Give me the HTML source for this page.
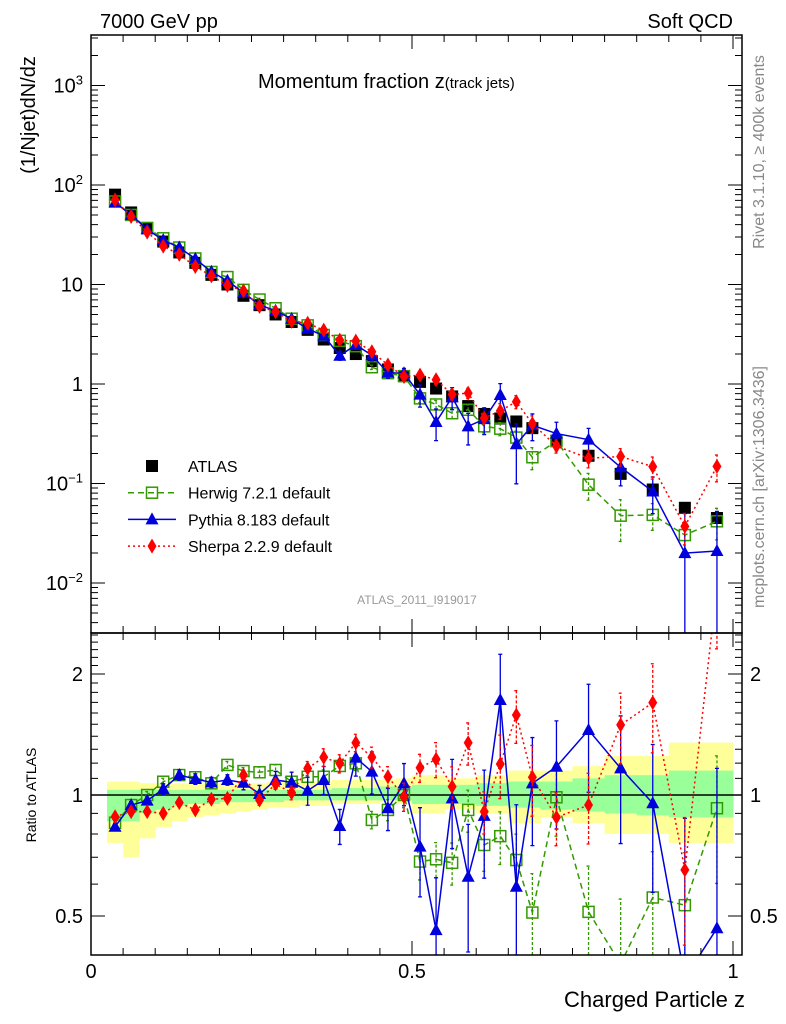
<!DOCTYPE html>
<html><head><meta charset="utf-8">
<style>
html,body{margin:0;padding:0;background:#fff;width:786px;height:1024px;overflow:hidden;}
svg{display:block;font-family:"Liberation Sans",Arial,sans-serif;}
</style></head>
<body>
<svg id="c" width="786" height="1024" viewBox="0 0 786 1024">
<text x="100" y="28" font-size="20">7000 GeV pp</text>
<text x="733" y="28" font-size="20" text-anchor="end">Soft QCD</text>
<text x="258" y="88" font-size="20">Momentum fraction z<tspan font-size="15">(track jets)</tspan></text>
<text transform="translate(35,115) rotate(-90)" font-size="20" text-anchor="middle">(1/Njet)dN/dz</text>
<text transform="translate(36,795) rotate(-90)" font-size="14" text-anchor="middle">Ratio to ATLAS</text>
<text x="745" y="1007" font-size="22" text-anchor="end">Charged Particle z</text>
<text transform="translate(764,152) rotate(-90)" font-size="16" fill="#888" text-anchor="middle">Rivet 3.1.10, ≥ 400k events</text>
<text transform="translate(764,487) rotate(-90)" font-size="16" fill="#888" text-anchor="middle">mcplots.cern.ch [arXiv:1306.3436]</text>
<text x="417" y="604" font-size="12" fill="#999" text-anchor="middle">ATLAS_2011_I919017</text>
<g id="g"></g>
</svg>
<script>
const zVals=[0.0375,0.0625,0.0875,0.1125,0.1375,0.1625,0.1875,0.2125,0.2375,0.2625,0.2875,0.3125,0.3375,0.3625,0.3875,0.4125,0.4375,0.4625,0.4875,0.5125,0.5375,0.5625,0.5875,0.6125,0.6375,0.6625,0.6875,0.725,0.775,0.825,0.875,0.925,0.975];
const binHalf=[0.0125,0.0125,0.0125,0.0125,0.0125,0.0125,0.0125,0.0125,0.0125,0.0125,0.0125,0.0125,0.0125,0.0125,0.0125,0.0125,0.0125,0.0125,0.0125,0.0125,0.0125,0.0125,0.0125,0.0125,0.0125,0.0125,0.0125,0.025,0.025,0.025,0.025,0.025,0.025];
const atlas=[80,53,37,27,21,16.5,12.5,10,7.7,6.2,5.0,4.2,3.5,2.8,2.3,2.0,1.7,1.4,1.2,1.05,0.9,0.75,0.6,0.5,0.45,0.42,0.36,0.27,0.19,0.125,0.087,0.057,0.045];
const herwigRatio=[0.853,0.944,1.0,1.079,1.121,1.107,1.069,1.188,1.147,1.139,1.154,1.079,1.11,1.11,1.181,1.199,0.867,0.918,1.0,0.683,0.692,0.678,0.918,0.751,0.79,0.689,0.51,0.987,0.512,0.38,0.556,0.532,0.927];
const pythiaRatio=[0.834,0.944,0.968,1.035,1.121,1.096,1.075,1.09,1.073,1.006,1.09,1.075,1.025,1.09,0.837,1.238,1.143,0.927,1.069,0.744,0.461,0.981,0.626,0.887,1.723,0.591,1.069,1.176,1.451,1.165,0.954,0.35,0.466];
const sherpaRatio=[0.883,0.909,0.909,0.9,0.957,0.918,0.976,0.981,1.121,0.972,1.065,1.013,1.165,1.241,1.199,1.349,1.241,1.11,0.99,1.169,1.227,1.049,1.349,0.909,1.194,1.581,1.107,0.88,0.944,1.494,1.697,0.651,3.3];
const herwigErr=[0.02,0.02,0.02,0.02,0.02,0.02,0.02,0.02,0.02,0.03,0.03,0.03,0.03,0.04,0.04,0.04,0.05,0.06,0.07,0.1,0.1,0.12,0.12,0.14,0.15,0.16,0.25,0.2,0.3,0.45,0.3,0.35,0.35];
const pythiaErr=[0.02,0.02,0.02,0.03,0.03,0.03,0.03,0.03,0.04,0.05,0.05,0.06,0.08,0.08,0.1,0.1,0.12,0.12,0.12,0.25,0.35,0.25,0.35,0.3,0.3,0.6,0.3,0.3,0.3,0.35,0.4,1.5,1.5];
const sherpaErr=[0.02,0.02,0.02,0.02,0.02,0.02,0.02,0.02,0.03,0.03,0.03,0.04,0.04,0.05,0.05,0.05,0.06,0.06,0.08,0.08,0.1,0.12,0.12,0.12,0.18,0.15,0.2,0.15,0.2,0.2,0.25,0.35,0.3];
const yellowHi=[1.08,1.08,1.07,1.07,1.07,1.07,1.07,1.07,1.07,1.07,1.08,1.08,1.08,1.08,1.09,1.09,1.09,1.09,1.1,1.12,1.12,1.1,1.1,1.12,1.12,1.15,1.15,1.15,1.18,1.25,1.25,1.35,1.35];
const yellowLo=[0.76,0.7,0.78,0.83,0.86,0.88,0.89,0.9,0.91,0.92,0.93,0.93,0.94,0.94,0.95,0.95,0.95,0.96,0.95,0.9,0.9,0.92,0.92,0.9,0.9,0.85,0.85,0.88,0.85,0.8,0.8,0.76,0.76];
const greenHi=[1.03,1.03,1.03,1.03,1.03,1.03,1.03,1.03,1.03,1.03,1.03,1.03,1.03,1.03,1.04,1.04,1.04,1.05,1.05,1.06,1.06,1.06,1.06,1.07,1.07,1.08,1.08,1.08,1.1,1.12,1.12,1.15,1.15];
const greenLo=[0.86,0.86,0.9,0.92,0.94,0.95,0.95,0.96,0.96,0.96,0.96,0.97,0.97,0.97,0.97,0.97,0.97,0.97,0.97,0.95,0.95,0.95,0.95,0.94,0.94,0.93,0.93,0.92,0.91,0.9,0.89,0.88,0.88];
const mainTicks=[{v:1000,l:"10<tspan dy='-8' font-size='13'>3</tspan>"},{v:100,l:"10<tspan dy='-8' font-size='13'>2</tspan>"},{v:10,l:"10"},{v:1,l:"1"},{v:0.1,l:"10<tspan dy='-8' font-size='13'>−1</tspan>"},{v:0.01,l:"10<tspan dy='-8' font-size='13'>−2</tspan>"}];
const ratioTicks=[2,1,0.5];
const xTicks=[0,0.5,1];

const L=91,R=742,T=35,MB=633,RB=955;
const X=z=>L+z*642;
const Ym=v=>384-99.5*Math.log10(v);
const Yr=r=>795-121*Math.log2(r);
const g=document.getElementById('g');
const NS="http://www.w3.org/2000/svg";
function el(tag,attrs,parent){const e=document.createElementNS(NS,tag);for(const k in attrs)e.setAttribute(k,attrs[k]);(parent||g).appendChild(e);return e;}
const clipDefs=el('defs',{});
const cp1=el('clipPath',{id:'cm'},clipDefs);el('rect',{x:L,y:T,width:R-L,height:MB-T},cp1);
const cp2=el('clipPath',{id:'cr'},clipDefs);el('rect',{x:L,y:MB,width:R-L,height:RB-MB},cp2);
const gm=el('g',{'clip-path':'url(#cm)'});


const gr=el('g',{'clip-path':'url(#cr)'});



zVals.forEach((z,i)=>{
  const x0=X(z-binHalf[i]),w=X(z+binHalf[i])-x0;
  const y=el('rect',{x:x0,y:Yr(yellowHi[i]),width:w+0.5,height:Yr(yellowLo[i])-Yr(yellowHi[i]),fill:'#ffff99'},gr);
  
  
});
zVals.forEach((z,i)=>{
  const x0=X(z-binHalf[i]),w=X(z+binHalf[i])-x0;
  const gg=el('rect',{x:x0,y:Yr(greenHi[i]),width:w+0.5,height:Yr(greenLo[i])-Yr(greenHi[i]),fill:'#99ff99'},gr);
  
  
});
const one=el('line',{x1:L,x2:R,y1:Yr(1),y2:Yr(1),stroke:'#000','stroke-width':1.5},gr);



function marker(parent,type,x,y,color){
  let m;
  if(type==='sq') m=el('rect',{x:x-6,y:y-6,width:12,height:12,fill:'#000'},parent);
  else if(type==='osq') m=el('rect',{x:x-5.5,y:y-5.5,width:11,height:11,fill:'none',stroke:color,'stroke-width':1.5},parent);
  else if(type==='tri') m=el('path',{d:`M${x},${y-7}L${x+6.5},${y+5}L${x-6.5},${y+5}Z`,fill:color},parent);
  else m=el('path',{d:`M${x},${y-7.5}L${x+4.5},${y}L${x},${y+7.5}L${x-4.5},${y}Z`,fill:color},parent);
  return m;
}
const models=[
 {name:'herwig',ratio:herwigRatio,err:herwigErr,color:'#339900',dash:'6,4',type:'osq'},
 {name:'pythia',ratio:pythiaRatio,err:pythiaErr,color:'#0000dd',dash:'',type:'tri'},
 {name:'sherpa',ratio:sherpaRatio,err:sherpaErr,color:'#ff0000',dash:'2,3',type:'dia'}];

zVals.forEach((z,i)=>{
  const m=marker(gm,'sq',X(z),Ym(atlas[i]),'#000');
  
  
});
const clampY=(y,top,bot)=>Math.max(top,Math.min(bot,y));
function drawModel(md,parent,Yf,valf,top,bot){
  const pts=zVals.map((z,i)=>[X(z),Yf(valf(i))]);
  const ln=el('polyline',{points:pts.map(p=>p.join(',')).join(' '),fill:'none',stroke:md.color,'stroke-width':1.5,'stroke-dasharray':md.dash},parent);
  
  
  zVals.forEach((z,i)=>{
    const v=valf(i),e=md.err[i];
    const lo=Math.max(v*(1-e),v*0.001),hi=v*(1+e);
    const yl=clampY(Yf(lo),top,bot),yh=clampY(Yf(hi),top,bot);
    const eb=el('path',{d:`M${X(z)},${yl}V${yh}M${X(z)-2},${yl}h4M${X(z)-2},${yh}h4`,stroke:md.color,'stroke-width':1.3,'stroke-dasharray':md.dash?'3,2':'',fill:'none'},parent);
    
    
    const m=marker(parent,md.type,X(z),Yf(v),md.color);
    
    
  });
}
models.forEach(md=>{
  drawModel(md,gm,Ym,i=>atlas[i]*md.ratio[i],T,MB);
  drawModel(md,gr,Yr,i=>md.ratio[i],MB,RB);
});

const f1=el('rect',{x:L,y:T,width:R-L,height:MB-T,fill:'none',stroke:'#000','stroke-width':1.5});


const f2=el('rect',{x:L,y:MB,width:R-L,height:RB-MB,fill:'none',stroke:'#000','stroke-width':1.5});



for(let d=-3;d<=3;d++){for(let k=1;k<10;k++){const v=k*Math.pow(10,d);const y=Ym(v);if(y<T||y>MB)continue;const len=k===1?14:7;
  const t=el('path',{d:`M${L},${y}h${len}M${R},${y}h${-len}`,stroke:'#000','stroke-width':1});
  
  }}
mainTicks.forEach(t=>{const tx=el('text',{x:L-8,y:Ym(t.v)+7,'font-size':20,'text-anchor':'end'});tx.innerHTML=t.l;
  
  });
for(let r=0.4;r<=2.6;r+=0.1){const y=Yr(r);if(y<MB||y>RB)continue;const maj=Math.abs(r-0.5)<1e-6||Math.abs(r-1)<1e-6||Math.abs(r-2)<1e-6;const len=maj?14:7;
  const t=el('path',{d:`M${L},${y}h${len}M${R},${y}h${-len}`,stroke:'#000','stroke-width':1});
  
  }
ratioTicks.forEach(r=>{
  const a=el('text',{x:L-8,y:Yr(r)+7,'font-size':20,'text-anchor':'end'});a.textContent=String(r);
  
  
  const b=el('text',{x:R+8,y:Yr(r)+7,'font-size':20});b.textContent=String(r);
  
  });
for(let i=0;i<=20;i++){const z=i*0.05;const x=X(z);const maj=i%10===0;const len=maj?14:7;
  const t=el('path',{d:`M${x},${MB}v${-len}M${x},${T}v${len}M${x},${RB}v${-len}M${x},${MB}v${len}`,stroke:'#000','stroke-width':1});
  
  }
xTicks.forEach(z=>{const t=el('text',{x:X(z),y:978,'font-size':20,'text-anchor':'middle'});t.textContent=String(z);
  
  });

const leg=[{t:'ATLAS',type:'sq',c:'#000',dash:null},{t:'Herwig 7.2.1 default',type:'osq',c:'#339900',dash:'6,4'},{t:'Pythia 8.183 default',type:'tri',c:'#0000dd',dash:''},{t:'Sherpa 2.2.9 default',type:'dia',c:'#ff0000',dash:'2,3'}];
leg.forEach((l,i)=>{const y=466+i*26.7;
  if(l.dash!==null){const ln=el('line',{x1:128,x2:176,y1:y,y2:y,stroke:l.c,'stroke-width':1.5,'stroke-dasharray':l.dash});
    
    }
  const m=marker(g,l.type,152,y,l.c);
  
  
  const tx=el('text',{x:188,y:y+6,'font-size':16});tx.textContent=l.t;
  
  });
</script>
</body></html>
